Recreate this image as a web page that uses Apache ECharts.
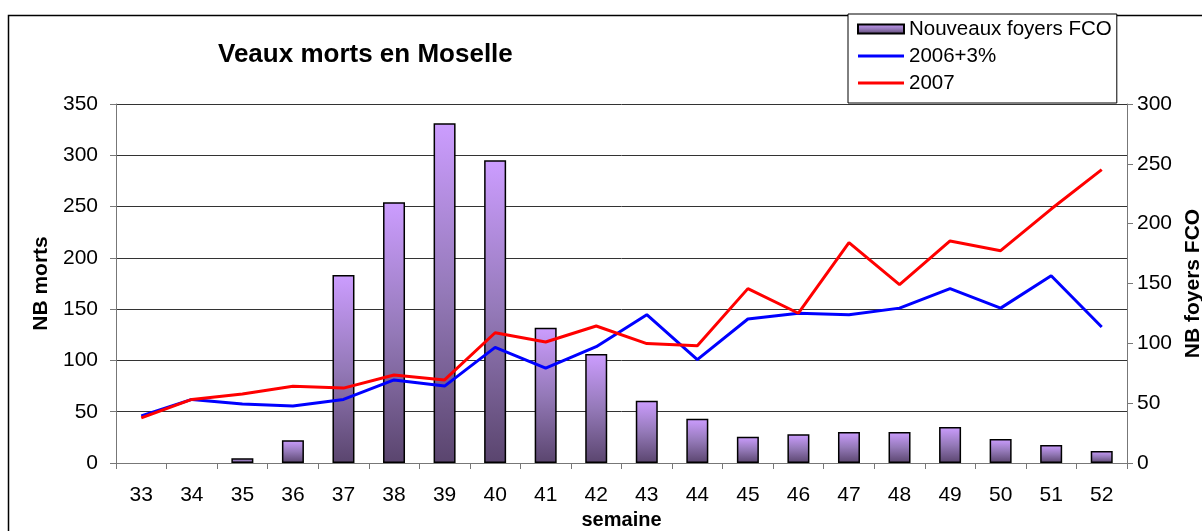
<!DOCTYPE html>
<html>
<head>
<meta charset="utf-8">
<script src="https://cdn.jsdelivr.net/npm/echarts@6/dist/echarts.min.js"></script>
<style>
html,body{margin:0;padding:0;background:#fff;}
#chart{width:1202px;height:531px;}
</style>
</head>
<body>
<div id="chart"></div>
<script>
const weeks = ['33','34','35','36','37','38','39','40','41','42','43','44','45','46','47','48','49','50','51','52'];
const foyers = [null, null, 4, 19, 157, 218, 284, 253, 113, 91, 52, 37, 22, 24, 26, 26, 30, 20, 15, 10];
const base2006 = [46, 62, 57.5, 55.6, 62, 81, 75, 112.7, 92.5, 113.4, 144.6, 100.8, 140.4, 146, 144.6, 151, 170, 151, 182.6, 132.6];
const y2007 = [44, 62, 67.3, 74.8, 73, 85.8, 81, 127, 118, 133.6, 116.4, 114.4, 170, 146, 214.8, 173.9, 216.5, 207, 247.6, 286];
const leftTicks = {min: 0, max: 350, interval: 50};
const rightTicks = {min: 0, max: 300, interval: 50};

const FONT = '"Liberation Sans", Arial, sans-serif';
const chart = echarts.init(document.getElementById('chart'));
const barGrad = new echarts.graphic.LinearGradient(0, 0, 0, 1, [
  {offset: 0, color: '#CC9DFF'},
  {offset: 0.5, color: '#9479B8'},
  {offset: 1, color: '#5A456E'}
]);
const lineIcon = 'path://M0,0h46v3h-46z';
chart.setOption({
  animation: false,
  backgroundColor: '#fff',
  textStyle: {fontFamily: FONT},
  title: {
    text: 'Veaux morts en Moselle',
    left: 218, top: 42, padding: 0,
    textStyle: {fontFamily: FONT, fontWeight: 'bold', fontSize: 26, color: '#000'}
  },
  graphic: [{
    type: 'rect', left: 6, top: 13, z: -1,
    shape: {width: 1300, height: 600},
    style: {fill: 'none', stroke: '#000', lineWidth: 1.5}
  }],
  legend: {
    orient: 'vertical',
    left: 848, top: 14,
    backgroundColor: '#fff',
    borderColor: '#000', borderWidth: 1,
    padding: [4, 5, 9, 9],
    itemWidth: 46, itemHeight: 9, itemGap: 5,
    textStyle: {fontFamily: FONT, fontSize: 20.5, color: '#000', lineHeight: 22},
    data: [
      {name: 'Nouveaux foyers FCO', icon: 'rect'},
      {name: '2006+3%', icon: lineIcon, itemStyle: {color: '#0000FF'}},
      {name: '2007', icon: lineIcon, itemStyle: {color: '#FF0000'}}
    ]
  },
  grid: {left: 116, right: 75, top: 104, bottom: 68, containLabel: false, outerBoundsMode: 'none'},
  xAxis: {
    type: 'category',
    data: weeks,
    name: 'semaine',
    nameLocation: 'middle',
    nameGap: 41,
    nameTextStyle: {fontFamily: FONT, fontWeight: 'bold', fontSize: 20, color: '#000'},
    axisLine: {lineStyle: {color: '#777', width: 1}},
    axisTick: {show: true, length: 6, lineStyle: {color: '#777'}},
    axisLabel: {fontFamily: FONT, fontSize: 21, color: '#000', margin: 22}
  },
  yAxis: [{
    type: 'value',
    min: leftTicks.min, max: leftTicks.max, interval: leftTicks.interval,
    name: 'NB morts',
    nameLocation: 'middle',
    nameGap: 63,
    nameTextStyle: {fontFamily: FONT, fontWeight: 'bold', fontSize: 21, color: '#000'},
    axisLine: {show: true, lineStyle: {color: '#777', width: 1}},
    axisTick: {show: true, length: 6, lineStyle: {color: '#777'}},
    axisLabel: {fontFamily: FONT, fontSize: 21, color: '#000', margin: 18},
    splitLine: {show: true, lineStyle: {color: '#333', width: 1}}
  }, {
    type: 'value',
    min: rightTicks.min, max: rightTicks.max, interval: rightTicks.interval,
    name: 'NB foyers FCO',
    nameLocation: 'middle',
    nameGap: 56,
    nameRotate: 90,
    nameTextStyle: {fontFamily: FONT, fontWeight: 'bold', fontSize: 21, color: '#000'},
    axisLine: {show: true, lineStyle: {color: '#777', width: 1}},
    axisTick: {show: true, length: 6, lineStyle: {color: '#777'}},
    axisLabel: {fontFamily: FONT, fontSize: 21, color: '#000', margin: 10},
    splitLine: {show: false}
  }],
  series: [{
    name: 'Nouveaux foyers FCO',
    type: 'bar',
    yAxisIndex: 1,
    data: foyers,
    barWidth: 22,
    itemStyle: {color: barGrad, borderColor: '#000', borderWidth: 1.5}
  }, {
    name: '2006+3%',
    type: 'line',
    yAxisIndex: 0,
    data: base2006,
    symbol: 'none',
    lineStyle: {color: '#0000FF', width: 3},
    itemStyle: {color: '#0000FF'},
    z: 3
  }, {
    name: '2007',
    type: 'line',
    yAxisIndex: 0,
    data: y2007,
    symbol: 'none',
    lineStyle: {color: '#FF0000', width: 3},
    itemStyle: {color: '#FF0000'},
    z: 4
  }]
});
</script>
</body>
</html>
